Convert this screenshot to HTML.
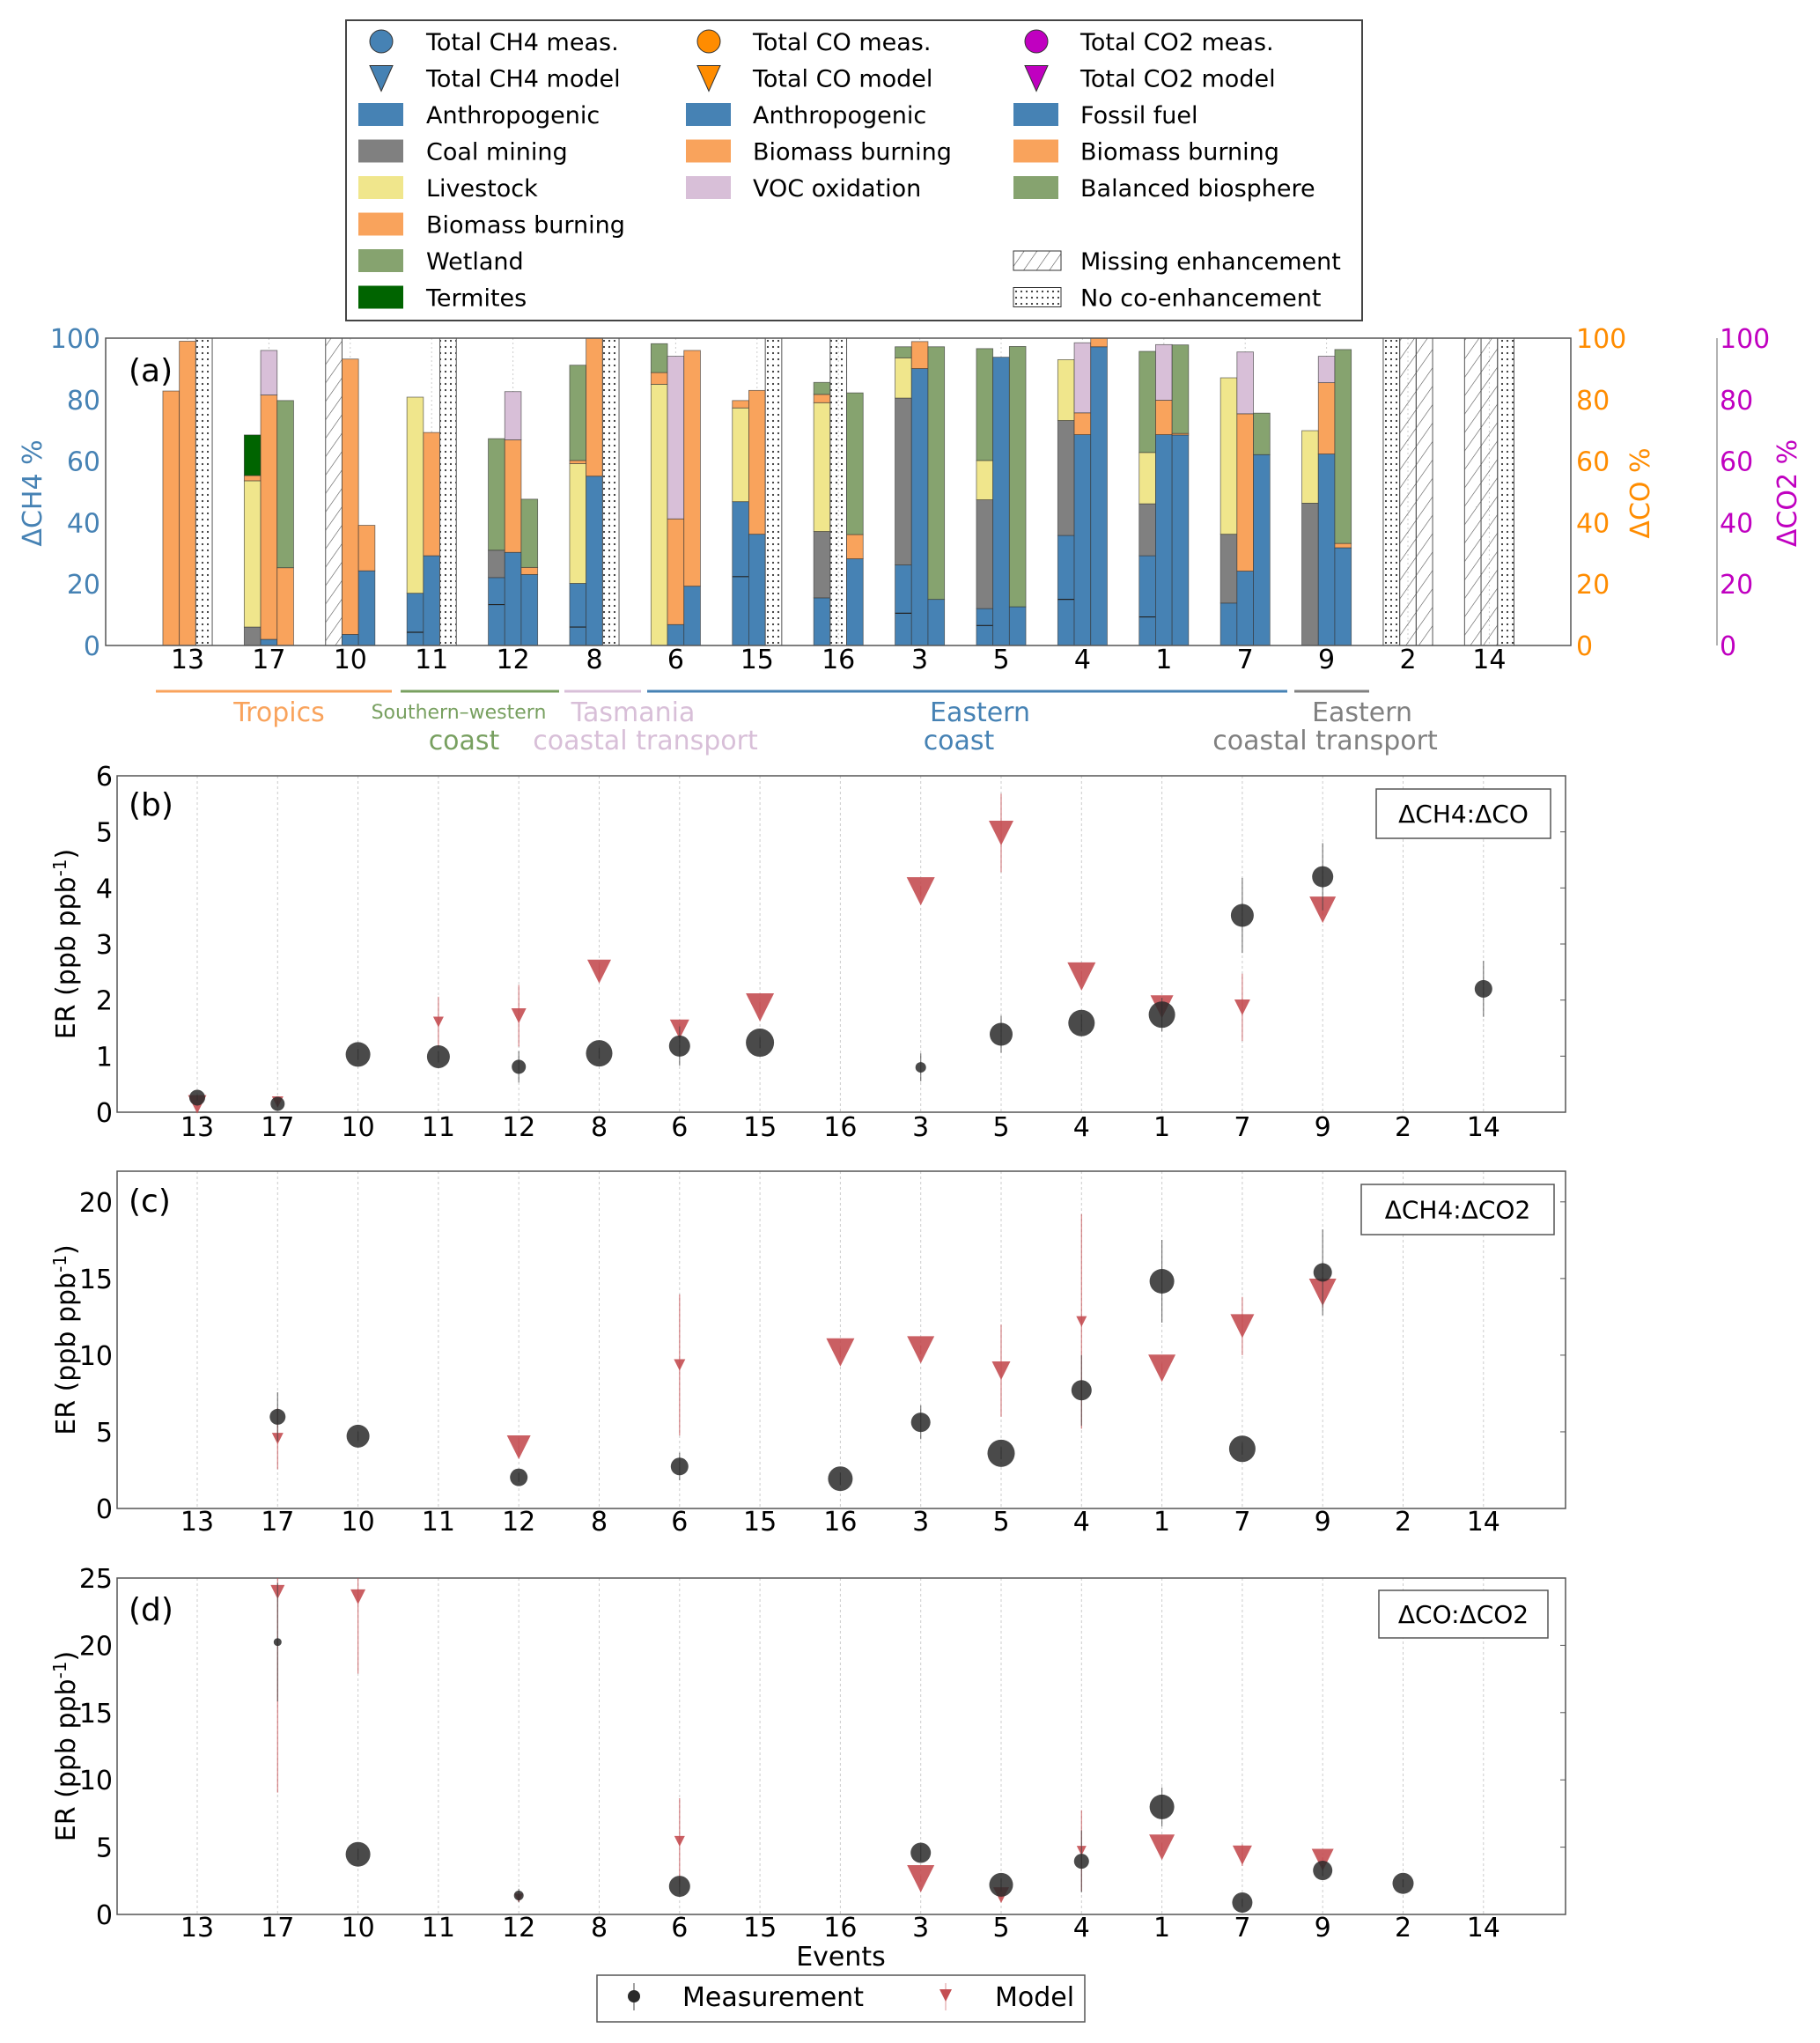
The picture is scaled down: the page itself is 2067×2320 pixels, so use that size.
<!DOCTYPE html>
<html><head><meta charset="utf-8"><style>
html,body{margin:0;padding:0;background:#fff}
svg{display:block;font-family:"DejaVu Sans","Liberation Sans",sans-serif}
</style></head><body>
<svg id="fig" width="2067" height="2320" viewBox="0 0 2067 2320" xmlns="http://www.w3.org/2000/svg">
<defs>
<pattern id="hatch" patternUnits="userSpaceOnUse" width="12" height="12" patternTransform="rotate(35)"><line x1="0" y1="0" x2="0" y2="12" stroke="#555" stroke-width="1.2"/></pattern>
<pattern id="dots" patternUnits="userSpaceOnUse" width="6" height="7"><circle cx="2" cy="2" r="1.1" fill="#333"/></pattern>
</defs>
<g id="root"></g>
</svg>
<script>
// ---------- data ----------
const events = ["13","17","10","11","12","8","6","15","16","3","5","4","1","7","9","2","14"];
// panel (a) CH4 sources (%)
const ch4Anth = [0,0,0,17,22.1,20.2,0,46.8,15.5,26.2,12,35.8,29.2,13.8,0,0,0];
const ch4AnthSub = [0,0,0,4.3,13.3,6,0,22.4,0,10.5,6.5,15,9.3,0,0,0,0];
const ch4Coal = [0,6,0,0,8.9,0,0,0,21.6,54.3,35.4,37.4,16.9,22.4,46.3,0,0];
const ch4Live = [0,47.6,0,63.8,0,39,85,30.5,41.9,13.1,12.8,19.8,16.7,50.9,23.6,0,0];
const ch4Biom = [82.8,1.7,0,0,0,1,3.8,2.4,2.7,0,0,0,0,0,0,0,0];
const ch4Wet = [0,0,0,0,36.3,31,9.4,0,3.9,3.6,36.4,0,32.9,0,0,0,0];
const ch4Term = [0,13.2,0,0,0,0,0,0,0,0,0,0,0,0,0,0,0];
const ch4Status = ["ok","ok","miss","ok","ok","ok","ok","ok","ok","ok","ok","ok","ok","ok","ok","noco","miss"];
// CO sources
const coAnth = [0,2,3.6,29.2,30.3,55.1,6.8,36.2,0,90.1,93.8,68.6,68.6,24.2,62.3,0,0];
const coBiom = [99,79.5,89.6,40.1,36.6,44.9,34.4,46.8,0,8.8,0,7.1,11.2,51.2,23.2,0,0];
const coVoc = [0,14.5,0,0,15.7,0,52.9,0,0,0,0,22.8,18.1,20.1,8.6,0,0];
const coStatus = ["ok","ok","ok","ok","ok","ok","ok","ok","noco","ok","ok","ok","ok","ok","ok","miss","miss"];
// CO2 sources
const co2Foss = [0,0,24.3,0,23.1,0,19.3,0,28.2,15,12.6,97.2,68.5,62.1,31.8,0,0];
const co2Biom = [0,25.3,14.8,0,2.3,0,76.7,0,7.9,0,0,2.8,0.5,0,1.4,0,0];
const co2Bio = [0,54.4,0,0,22.2,0,0,0,46.1,82.2,84.7,0,28.8,13.5,63.1,0,0];
const co2Status = ["noco","ok","ok","noco","ok","noco","ok","noco","ok","ok","ok","ok","ok","ok","ok","miss","noco"];
const aTicks = [0,20,40,60,80,100];

// panel (b) dCH4:dCO
const bMeas = [0.26,0.15,1.03,0.99,0.81,1.05,1.18,1.24,null,0.8,1.39,1.59,1.74,3.51,4.2,null,2.2];
const bMeasErr = [0.05,0.05,0.1,0.1,0.28,0.1,0.35,0.1,0,0.25,0.33,0.15,0.3,0.67,0.6,0,0.5];
const bMeasSize = [18,16,28,26,16,30,24,32,0,12,26,30,30,26,24,0,20];
const bModel = [0.14,0.18,null,1.61,1.72,2.51,1.48,1.87,null,3.94,4.98,2.42,1.88,1.87,3.61,null,null];
const bModelErr = [0.05,0.05,0,0.45,0.55,0.15,0.1,0.1,0,0.1,0.7,0.1,0.1,0.6,0.1,0,0];
const bModelSize = [21,13,0,12,17,27,22,32,0,32,28,32,26,18,30,0,0];
const bTicks = [0,1,2,3,4,5,6];
// panel (c) dCH4:dCO2
const cMeas = [null,5.98,4.72,null,2.03,null,2.74,null,1.94,5.62,3.6,7.71,14.82,3.89,15.4,null,null];
const cMeasErr = [0,1.6,0.3,0,0.3,0,0.9,0,0.4,1.1,0.4,2.3,2.7,0.4,2.8,0,0];
const cMeasSize = [0,18,26,0,20,0,20,0,28,22,31,23,28,30,21,0,0];
const cModel = [null,4.56,null,null,3.99,null,9.36,null,10.18,10.35,8.99,12.2,9.15,11.9,14.1,null,null];
const cModelErr = [0,2,0,0,0.6,0,4.6,0,0.3,0.3,3,7,0.3,1.9,1.0,0,0];
const cModelSize = [0,13,0,0,27,0,13,0,32,31,21,12,31,27,31,0,0];
const cTicks = [0,5,10,15,20];
// panel (d) dCO:dCO2
const dMeas = [null,20.24,4.47,null,1.41,null,2.09,null,null,4.58,2.2,3.95,7.99,0.88,3.27,2.31,null];
const dMeasErr = [0,4.4,0.4,0,0.5,0,0.6,0,0,0.6,0.5,2.3,1.45,0.3,0.4,0.3,0];
const dMeasSize = [0,9,28,0,11,0,24,0,0,23,27,17,28,23,22,24,0];
const dModel = [null,23.96,23.6,null,1.22,null,5.44,null,null,2.65,1.43,4.74,4.99,4.4,4.06,null,null];
const dModelErr = [0,14.9,5.7,0,0.3,0,3.2,0,0,0.2,0.3,3,0.3,0.8,0.2,0,0];
const dModelSize = [0,16,17,0,10,0,12,0,0,31,18,11,29,22,25,0,0];
const dTicks = [0,5,10,15,20,25];

// ---------- helpers ----------
const NS = "http://www.w3.org/2000/svg";
const root = document.getElementById("root");
function mk(tag, attrs, parent, text){
  const e = document.createElementNS(NS, tag);
  for (const k in attrs) e.setAttribute(k, attrs[k]);
  if (text !== undefined) e.textContent = text;
  (parent || root).appendChild(e);
  return e;
}
const C = {blue:"#4682b4", gray:"#808080", yellow:"#f0e68c", orange:"#f9a35c", green:"#86a36f", pink:"#d8bfd8", dgreen:"#006400"};

// ---------- panel (a) ----------
const aL=120, aR=1784, aT=384, aB=733;
const aX = i => 213 + i*92.4;
const aY = v => aB - v*(aB-aT)/100;
const bw = 18.7;
const gA = mk("g", {});


events.forEach((ev,i)=>{
  const gl = mk("line",{x1:aX(i),x2:aX(i),y1:aT,y2:aB,stroke:"#ccc","stroke-width":1,"stroke-dasharray":"2,3"},gA);
  
  
});
function stack(i, off, segs, status, name){
  const x = aX(i) + off*bw - bw/2;
  if (status !== "ok"){
    const r = mk("rect",{x:x,y:aT,width:bw,height:aB-aT,fill:status==="miss"?"url(#hatch)":"url(#dots)",stroke:"#555","stroke-width":1},gA);
    
    
    return;
  }
  let base = 0;
  segs.forEach(s=>{
    const v = s[0][i];
    if (!v) return;
    const r = mk("rect",{x:x,y:aY(base+v),width:bw,height:aY(base)-aY(base+v),fill:s[1],stroke:"#333","stroke-width":0.8,"stroke-opacity":0.7},gA);
    
    
    base += v;
  });
}
events.forEach((ev,i)=>{
  stack(i,-1,[[ch4Anth,C.blue,"anthropogenic"],[ch4Coal,C.gray,"coal-mining"],[ch4Live,C.yellow,"livestock"],[ch4Biom,C.orange,"biomass-burning"],[ch4Wet,C.green,"wetland"],[ch4Term,C.dgreen,"termites"]],ch4Status[i],"ch4");
  if (ch4AnthSub[i] && ch4Status[i]==="ok"){
    const x = aX(i) - bw*1.5;
    const l = mk("line",{x1:x,x2:x+bw,y1:aY(ch4AnthSub[i]),y2:aY(ch4AnthSub[i]),stroke:"#222","stroke-width":1.2},gA);
    
    
  }
  stack(i,0,[[coAnth,C.blue,"anthropogenic"],[coBiom,C.orange,"biomass-burning"],[coVoc,C.pink,"voc-oxidation"]],coStatus[i],"co");
  stack(i,1,[[co2Foss,C.blue,"fossil-fuel"],[co2Biom,C.orange,"biomass-burning"],[co2Bio,C.green,"balanced-biosphere"]],co2Status[i],"co2");
  const t = mk("text",{x:aX(i),y:759,"font-size":30,"text-anchor":"middle",fill:"#000"},gA,ev);
  
  
});
const frA = mk("rect",{x:aL,y:aT,width:aR-aL,height:aB-aT,fill:"none",stroke:"#555","stroke-width":1.5},gA);


const co2Sp = mk("line",{x1:1950,x2:1950,y1:aT,y2:aB,stroke:"#999","stroke-width":1.5},gA);


aTicks.forEach(v=>{
  const t1 = mk("text",{x:114,y:aY(v)+11,"font-size":30,"text-anchor":"end",fill:C.blue},gA,String(v));
  
  
  const t2 = mk("text",{x:1790,y:aY(v)+11,"font-size":30,fill:"#ff8c00"},gA,String(v));
  
  
  const t3 = mk("text",{x:1953,y:aY(v)+11,"font-size":30,fill:"#c000c0"},gA,String(v));
  
  
});
[["ΔCH4 %",47,C.blue,"ch4-y-axis-title"],["ΔCO %",1873,"#ff8c00","co-y-axis-title"],["ΔCO2 %",2040,"#c000c0","co2-y-axis-title"]].forEach(a=>{
  const t = mk("text",{x:a[1],y:560,"font-size":30,"text-anchor":"middle",fill:a[2],transform:`rotate(-90 ${a[1]} 560)`},gA,a[0]);
  
  
});
const la = mk("text",{x:146,y:433,"font-size":36,fill:"#000"},gA,"(a)");


// region annotations
[[177,445,C.orange,"tropics"],[455,635,"#78a060","southern-western-coast"],[641,728,C.pink,"tasmania"],[735,1462,C.blue,"eastern-coast"],[1470,1555,C.gray,"eastern-coastal-transport"]].forEach(r=>{
  const l = mk("line",{x1:r[0],x2:r[1],y1:785,y2:785,stroke:r[2],"stroke-width":3},gA);
  
  
});
[["Tropics",317,819,30,C.orange],["Southern–western",521,816,22,"#78a060"],["coast",527,851,30,"#78a060"],["Tasmania",719,819,30,C.pink],["coastal transport",733,851,30,C.pink],["Eastern",1113,819,30,C.blue],["coast",1089,851,30,C.blue],["Eastern",1547,819,30,C.gray],["coastal transport",1505,851,30,C.gray]].forEach(r=>{
  const t = mk("text",{x:r[1],y:r[2],"font-size":r[3],"text-anchor":"middle",fill:r[4]},gA,r[0]);
  
  
});

// ---------- legend top ----------
const gL = mk("g",{});


const lb = mk("rect",{x:393,y:23,width:1154,height:341,fill:"#fff",stroke:"#444","stroke-width":2},gL);


const rowY = r => 47 + r*41.5;
const colM = [433,805,1177], colT=[484,855,1227];
const legItems = [
 [0,0,"circ",C.blue,"Total CH4 meas."],[0,1,"tri",C.blue,"Total CH4 model"],[0,2,"sq",C.blue,"Anthropogenic"],[0,3,"sq",C.gray,"Coal mining"],[0,4,"sq",C.yellow,"Livestock"],[0,5,"sq",C.orange,"Biomass burning"],[0,6,"sq",C.green,"Wetland"],[0,7,"sq",C.dgreen,"Termites"],
 [1,0,"circ","#ff8c00","Total CO meas."],[1,1,"tri","#ff8c00","Total CO model"],[1,2,"sq",C.blue,"Anthropogenic"],[1,3,"sq",C.orange,"Biomass burning"],[1,4,"sq",C.pink,"VOC oxidation"],
 [2,0,"circ","#c000c0","Total CO2 meas."],[2,1,"tri","#c000c0","Total CO2 model"],[2,2,"sq",C.blue,"Fossil fuel"],[2,3,"sq",C.orange,"Biomass burning"],[2,4,"sq",C.green,"Balanced biosphere"],[2,6,"hatch","","Missing enhancement"],[2,7,"dots","","No co-enhancement"]
];
legItems.forEach(it=>{
  const cx=colM[it[0]], cy=rowY(it[1]);
  let m;
  if (it[2]==="circ") m = mk("circle",{cx:cx,cy:cy,r:13,fill:it[3],stroke:"#333","stroke-width":1},gL);
  else if (it[2]==="tri") m = mk("polygon",{points:`${cx-13},${cy-14} ${cx+13},${cy-14} ${cx},${cy+15}`,fill:it[3],stroke:"#333","stroke-width":1},gL);
  else if (it[2]==="sq") m = mk("rect",{x:cx-26,y:cy-13,width:51,height:26,fill:it[3]},gL);
  else m = mk("rect",{x:cx-26,y:cy-11,width:54,height:22,fill:it[2]==="hatch"?"url(#hatch)":"url(#dots)",stroke:"#333","stroke-width":1},gL);
  
  
  const t = mk("text",{x:colT[it[0]],y:cy+10,"font-size":27,fill:"#000"},gL,it[4]);
  
  
});

// ---------- ER panels ----------
const pL=133, pR=1778;
const pX = i => 224 + i*91.3;
function erPanel(name, letter, top, bot, ymax, ticks, meas, measErr, measSize, model, modelErr, modelSize, boxLabel, box, tickY, letterY){
  const g = mk("g",{});
  
  
  const Y = v => bot - v*(bot-top)/ymax;
  events.forEach((ev,i)=>{
    const gl = mk("line",{x1:pX(i),x2:pX(i),y1:top,y2:bot,stroke:"#ccc","stroke-width":1,"stroke-dasharray":"3,3"},g);
    
    
    const t = mk("text",{x:pX(i),y:tickY,"font-size":30,"text-anchor":"middle",fill:"#000"},g,ev);
    
    
  });
  const fr = mk("rect",{x:pL,y:top,width:pR-pL,height:bot-top,fill:"none",stroke:"#555","stroke-width":1.5},g);
  
  
  ticks.forEach(v=>{
    const t = mk("text",{x:128,y:Y(v)+11,"font-size":30,"text-anchor":"end",fill:"#000"},g,String(v));
    
    
    const tk = mk("line",{x1:pR-6,x2:pR,y1:Y(v),y2:Y(v),stroke:"#555"},g);
    
    
  });
  const clip = v => Math.max(top, Math.min(bot, v));
  events.forEach((ev,i)=>{
    if (model[i]!==null){
      const x=pX(i), y=Y(model[i]), s=modelSize[i]/2;
      const e = mk("line",{x1:x,x2:x,y1:clip(Y(model[i]+modelErr[i])),y2:clip(Y(model[i]-modelErr[i])),stroke:"#c44e52","stroke-width":1.2,"stroke-opacity":0.7},g);
      
      
      const p = mk("polygon",{points:`${x-s},${y-s} ${x+s},${y-s} ${x},${y+s}`,fill:"#c44e52","fill-opacity":0.9},g);
      
      
    }
    if (meas[i]!==null){
      const x=pX(i), y=Y(meas[i]);
      const e = mk("line",{x1:x,x2:x,y1:clip(Y(meas[i]+measErr[i])),y2:clip(Y(meas[i]-measErr[i])),stroke:"#444","stroke-width":1.2,"stroke-opacity":0.7},g);
      
      
      const c = mk("circle",{cx:x,cy:y,r:measSize[i]/2,fill:"#2a2a2a","fill-opacity":0.85},g);
      
      
    }
  });
  const bx = mk("rect",{x:box[0],y:box[1],width:box[2]-box[0],height:box[3]-box[1],fill:"#fff",stroke:"#555","stroke-width":1.5},g);
  
  
  const bt = mk("text",{x:(box[0]+box[2])/2,y:(box[1]+box[3])/2+10,"font-size":28,"text-anchor":"middle",fill:"#000"},g,boxLabel);
  
  
  const lt = mk("text",{x:146,y:letterY,"font-size":36,fill:"#000"},g,"("+letter+")");
  
  
  const my=(top+bot)/2;
  const yt = mk("text",{x:85,y:my,"font-size":30,"text-anchor":"middle",fill:"#000",transform:`rotate(-90 85 ${my})`},g);
  
  
  mk("tspan",{},yt,"ER (ppb ppb");
  mk("tspan",{dy:-10,"font-size":20},yt,"-1");
  mk("tspan",{dy:10},yt,")");
}
erPanel("b","b",881,1263,6,bTicks,bMeas,bMeasErr,bMeasSize,bModel,bModelErr,bModelSize,"ΔCH4:ΔCO",[1563,896,1761,952],1290,926);
erPanel("c","c",1330,1713,22,cTicks,cMeas,cMeasErr,cMeasSize,cModel,cModelErr,cModelSize,"ΔCH4:ΔCO2",[1546,1345,1765,1402],1738,1376);
erPanel("d","d",1792,2174,25,dTicks,dMeas,dMeasErr,dMeasSize,dModel,dModelErr,dModelSize,"ΔCO:ΔCO2",[1566,1806,1758,1860],2199,1840);

const xt = mk("text",{x:955,y:2232,"font-size":30,"text-anchor":"middle",fill:"#000"},root,"Events");


// bottom legend
const gB = mk("g",{});


const bb = mk("rect",{x:678,y:2243,width:554,height:53,fill:"#fff",stroke:"#555","stroke-width":1.5},gB);


const m1l = mk("line",{x1:720,x2:720,y1:2252,y2:2283,stroke:"#444"},gB);


const m1 = mk("circle",{cx:720,cy:2267,r:7,fill:"#2a2a2a"},gB);


const t1 = mk("text",{x:775,y:2278,"font-size":30,fill:"#000"},gB,"Measurement");


const m2l = mk("line",{x1:1074,x2:1074,y1:2252,y2:2283,stroke:"#c44e52","stroke-opacity":0.6},gB);


const m2 = mk("polygon",{points:"1067,2259 1081,2259 1074,2273",fill:"#c44e52"},gB);


const t2 = mk("text",{x:1130,y:2278,"font-size":30,fill:"#000"},gB,"Model");


</script>
</body></html>
